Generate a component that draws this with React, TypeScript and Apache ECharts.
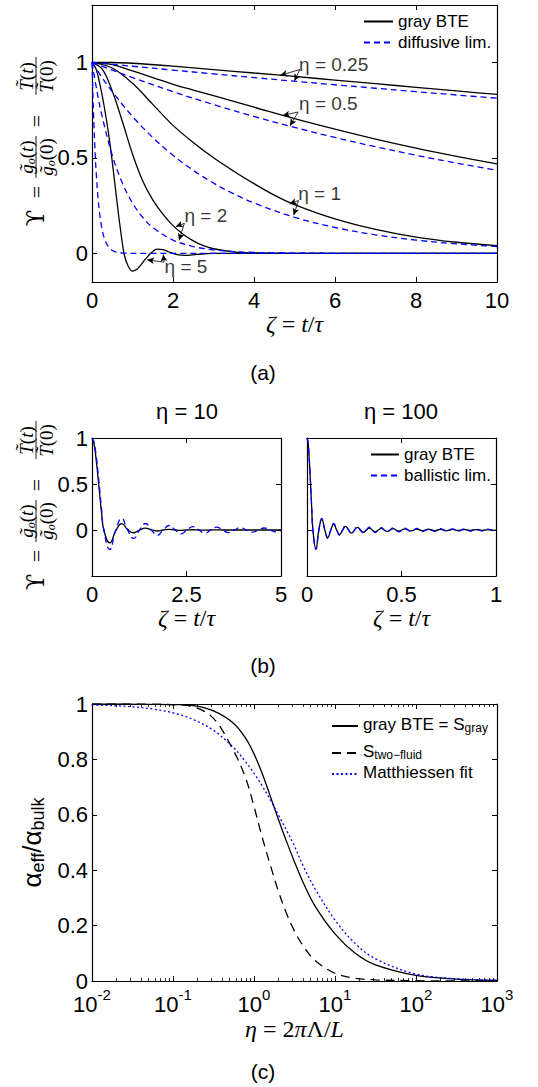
import React, { useEffect, useRef } from 'react';
import * as echarts from 'echarts';

const SANS = '"Liberation Sans", Arial, Helvetica, sans-serif';
const SERIF = '"Liberation Serif", "Times New Roman", serif';
const BLUE = '#0000ff';
const BLACK = '#000000';

// ---------------- Panel (a): zeta = t/tau, Upsilon ----------------
const ZETA_A025B = [0, 0.5, 1, 2, 3, 4, 5, 6, 7, 8, 9, 10];
const BTE_ETA025 = [1, 0.999, 0.995, 0.98, 0.962, 0.944, 0.926, 0.907, 0.888, 0.869, 0.85, 0.832];
const ZETA_A025D = [0, 1, 2, 3, 4, 5, 6, 7, 8, 9, 10];
const DIF_ETA025 = [1, 0.9794, 0.9592, 0.9394, 0.92, 0.901, 0.8825, 0.8643, 0.8465, 0.829, 0.8119];

const ZETA_A05B = [0, 0.5, 1, 1.5, 2, 2.5, 3, 4, 5, 6, 7, 8, 9, 10];
const BTE_ETA05 = [1, 0.988, 0.955, 0.92, 0.885, 0.855, 0.825, 0.765, 0.705, 0.65, 0.598, 0.551, 0.508, 0.468];
const ZETA_A05D = [0, 0.5, 1, 2, 3, 4, 5, 6, 7, 8, 9, 10];
const DIF_ETA05 = [1, 0.9592, 0.92, 0.8465, 0.7788, 0.7165, 0.6592, 0.6065, 0.558, 0.5134, 0.4724, 0.4346];

const ZETA_A1B = [0, 0.5, 1, 1.5, 2, 2.5, 3, 3.5, 4, 4.5, 5, 6, 7, 8, 9, 10];
const BTE_ETA1 = [1, 0.97, 0.89, 0.78, 0.67, 0.58, 0.5, 0.43, 0.365, 0.305, 0.255, 0.18, 0.125, 0.085, 0.058, 0.04];
const ZETA_A1D = [0, 0.25, 0.5, 1, 1.5, 2, 2.5, 3, 3.5, 4, 5, 6, 7, 8, 9, 10];
const DIF_ETA1 = [1, 0.92, 0.8465, 0.7165, 0.6065, 0.5134, 0.4346, 0.3679, 0.3114, 0.2636, 0.1889, 0.1353, 0.097, 0.0695, 0.0498, 0.0357];

const ZETA_A2B = [0, 0.25, 0.5, 0.75, 1, 1.25, 1.5, 1.75, 2, 2.25, 2.5, 2.75, 3, 3.5, 4, 5, 6, 8, 10];
const BTE_ETA2 = [1, 0.965, 0.85, 0.69, 0.52, 0.38, 0.28, 0.205, 0.145, 0.1, 0.065, 0.04, 0.024, 0.008, 0.002, 0, 0, 0, 0];
const ZETA_A2D = [0, 0.125, 0.25, 0.5, 0.75, 1, 1.25, 1.5, 2, 2.5, 3, 3.5, 4, 5, 6, 10];
const DIF_ETA2 = [1, 0.8465, 0.7165, 0.5134, 0.3679, 0.2636, 0.1889, 0.1353, 0.0695, 0.0357, 0.0183, 0.0094, 0.0048, 0.0013, 0.0003, 0];

const ZETA_A5B = [0, 0.1, 0.2, 0.3, 0.4, 0.5, 0.6, 0.7, 0.8, 0.9, 1.0, 1.1, 1.2, 1.3, 1.45, 1.6, 1.75, 1.9, 2.1, 2.3, 2.6, 3, 4, 10];
const BTE_ETA5 = [1, 0.965, 0.88, 0.77, 0.64, 0.48, 0.3, 0.13, -0.01, -0.07, -0.093, -0.085, -0.063, -0.035, 0.0, 0.022, 0.02, 0.007, -0.007, -0.011, -0.005, 0, 0, 0];
const ZETA_A5D = [0, 0.025, 0.05, 0.075, 0.1, 0.15, 0.2, 0.25, 0.3, 0.4, 0.5, 0.6, 0.8, 1, 10];
const DIF_ETA5 = [1, 0.8119, 0.6592, 0.5353, 0.4346, 0.2865, 0.1889, 0.1245, 0.0821, 0.0357, 0.0155, 0.0067, 0.0013, 0.0002, 0];

const Y_TICKS_A = [0, 0.5, 1];

// annotations of panel (a), in data units
const ANNOT_TEXT = ['η = 0.25', 'η = 0.5', 'η = 1', 'η = 2', 'η = 5'];
const ANNOT_TEXT_AT = [[5.1, 0.99], [5.1, 0.785], [5.08, 0.314], [2.27, 0.197], [1.78, -0.07]];
const ANNOT_FROM = [[5.13, 0.962], [5.09, 0.74], [5.1, 0.277], [2.28, 0.157], [1.78, -0.046]];
const ANNOT_TO_BTE = [[4.65, 0.932], [4.71, 0.722], [4.88, 0.258], [2.07, 0.14], [1.36, -0.034]];
const ANNOT_TO_DIF = [[5.0, 0.903], [4.89, 0.668], [4.98, 0.2], [2.15, 0.068], [1.76, -0.006]];

// ---------------- Panel (b) ----------------
const ZETA_B10 = [0, 0.05, 0.1, 0.157, 0.2, 0.25, 0.314, 0.471, 0.628, 0.785,
  0.942, 1.1, 1.257, 1.414, 1.571, 1.728, 1.885, 2.042, 2.199, 2.356,
  2.513, 2.67, 2.827, 2.985, 3.142, 3.299, 3.456, 3.613, 3.77, 3.927,
  4.084, 4.241, 4.398, 4.555, 4.712, 4.869, 5];
const BAL_B10 = [1, 0.959, 0.841, 0.637, 0.455, 0.239, 0, -0.212, 0, 0.127,
  0, -0.091, 0, 0.0707, 0, -0.0579, 0, 0.049, 0, -0.0424,
  0, 0.0374, 0, -0.0335, 0, 0.0303, 0, -0.0277, 0, 0.0255,
  0, -0.0236, 0, 0.0219, 0, -0.0205, -0.005];
const BTE_B10 = [1, 0.945, 0.8, 0.58, 0.4, 0.2, 0, -0.14, -0.01, 0.07,
  0.005, -0.03, 0, 0.02, 0.001, -0.011, 0, 0.007, 0, -0.004,
  0, 0.0025, 0, -0.0015, 0, 0.001, 0, 0, 0, 0,
  0, 0, 0, 0, 0, 0, 0];

const ZETA_B100 = [0, 0.005, 0.01, 0.0157, 0.02, 0.025, 0.0314, 0.0471, 0.0628, 0.0785,
  0.0942, 0.11, 0.1257, 0.1414, 0.1571, 0.1728, 0.1885, 0.2042, 0.2199, 0.2356,
  0.2513, 0.267, 0.2827, 0.2985, 0.3142, 0.3299, 0.3456, 0.3613, 0.377, 0.3927,
  0.4084, 0.4241, 0.4398, 0.4555, 0.4712, 0.4869, 0.5027, 0.5184, 0.5341, 0.5498,
  0.5655, 0.5812, 0.5969, 0.6126, 0.6283, 0.644, 0.6597, 0.6754, 0.6912, 0.7069,
  0.7226, 0.7383, 0.754, 0.7697, 0.7854, 0.8011, 0.8168, 0.8325, 0.8482, 0.8639,
  0.8796, 0.8954, 0.9111, 0.9268, 0.9425, 0.9582, 0.9739, 0.9896, 1];
const BAL_B100 = [1, 0.959, 0.841, 0.637, 0.455, 0.239, 0, -0.212, 0, 0.127,
  0, -0.0909, 0, 0.0707, 0, -0.0579, 0, 0.049, 0, -0.0424,
  0, 0.0374, 0, -0.0335, 0, 0.0303, 0, -0.0277, 0, 0.0255,
  0, -0.0236, 0, 0.0219, 0, -0.0205, 0, 0.0193, 0, -0.0182,
  0, 0.0172, 0, -0.0163, 0, 0.0155, 0, -0.0148, 0, 0.0141,
  0, -0.0135, 0, 0.013, 0, -0.0125, 0, 0.012, 0, -0.0116,
  0, 0.0112, 0, -0.0108, 0, 0.0104, 0, -0.0101, -0.005];
const BTE_B100 = [1, 0.955, 0.835, 0.627, 0.447, 0.234, 0, -0.202, 0, 0.117,
  0, -0.0815, 0, 0.0614, 0, -0.0487, 0, 0.0399, 0, -0.0335,
  0, 0.0287, 0, -0.0249, 0, 0.0218, 0, -0.0193, 0, 0.0172,
  0, -0.0154, 0, 0.0139, 0, -0.0126, 0, 0.0115, 0, -0.0105,
  0, 0.0096, 0, -0.0088, 0, 0.0081, 0, -0.0075, 0, 0.007,
  0, -0.0065, 0, 0.006, 0, -0.0056, 0, 0.0052, 0, -0.0049,
  0, 0.0046, 0, -0.0043, 0, 0.004, 0, -0.0038, -0.002];
const Y_TICKS_B = [0, 0.5, 1];

// ---------------- Panel (c) ----------------
const ETA_C = [0.01, 0.01778, 0.03162, 0.05623, 0.1, 0.1778, 0.3162, 0.5623, 0.7943, 1,
  1.259, 1.585, 1.995, 2.512, 3.162, 3.981, 5.623, 10, 17.78, 31.62, 100, 316.2, 1000];
const S_GRAY = [1, 1, 0.9998, 0.999, 0.998, 0.994, 0.975, 0.93, 0.875, 0.82,
  0.75, 0.668, 0.585, 0.505, 0.43, 0.36, 0.272, 0.17, 0.1, 0.058, 0.02, 0.007, 0.002];
const S_TWOFLUID = [1, 1, 1, 0.9995, 0.998, 0.99, 0.948, 0.83, 0.73, 0.63,
  0.52, 0.42, 0.325, 0.245, 0.18, 0.13, 0.075, 0.028, 0.01, 0.004, 0.001, 0, 0];
const S_MATTHIESSEN = [0.997, 0.994, 0.99, 0.982, 0.968, 0.944, 0.905, 0.842, 0.79, 0.75,
  0.705, 0.655, 0.6, 0.545, 0.487, 0.42, 0.335, 0.22, 0.135, 0.08, 0.025, 0.008, 0.003];

const pts = (xs: number[], ys: number[]) => xs.map((x, i) => [x, ys[i]]);

// grid g uses xAxis 2g (bottom) and yAxis 2g (left)
function lineSeries(name: string, xs: number[], ys: number[], grid: number, color: string, type: any, smooth = 0.35, width = 1.3) {
  return {
    type: 'line', name, data: pts(xs, ys), xAxisIndex: 2 * grid, yAxisIndex: 2 * grid,
    symbol: 'none', showSymbol: false, smooth, silent: true,
    lineStyle: { color, width, type }, itemStyle: { color },
  };
}

const LINE = { show: true, onZero: false, lineStyle: { color: BLACK, width: 1.2 } };
const TICK = { show: true, inside: true, length: 5, lineStyle: { color: BLACK, width: 1 } };
const LABEL = { color: BLACK, fontSize: 22, fontFamily: SANS };
const NO_SPLIT = { show: false };

const ZETA_NAME = '{i|ζ}{n| = }{i|t}{n|/}{i|τ}';
const NAME_STYLE = {
  color: BLACK, fontSize: 22, fontFamily: SERIF,
  rich: {
    i: { fontStyle: 'italic', fontSize: 24, fontFamily: SERIF, color: BLACK },
    n: { fontSize: 24, fontFamily: SERIF, color: BLACK },
  },
};

function xPair(grid: number, min: number, max: number, interval: number, nameGap: number) {
  return [
    {
      type: 'value', gridIndex: grid, position: 'bottom', min, max, interval,
      axisLine: LINE, axisTick: TICK, splitLine: NO_SPLIT,
      axisLabel: { ...LABEL, margin: 7, showMinLabel: true, showMaxLabel: true },
      name: ZETA_NAME, nameLocation: 'middle', nameGap, nameTextStyle: NAME_STYLE,
    },
    {
      type: 'value', gridIndex: grid, position: 'top', min, max, interval,
      axisLine: LINE, axisTick: TICK, splitLine: NO_SPLIT, axisLabel: { show: false },
    },
  ];
}

function yPair(grid: number, min: number, max: number, ticks: number[], showLabels: boolean) {
  return [
    {
      type: 'value', gridIndex: grid, position: 'left', min, max,
      axisLine: LINE, axisTick: { ...TICK, customValues: ticks }, splitLine: NO_SPLIT,
      axisLabel: { ...LABEL, show: showLabels, margin: 4, customValues: ticks },
    },
    {
      type: 'value', gridIndex: grid, position: 'right', min, max,
      axisLine: LINE, axisTick: { ...TICK, customValues: ticks }, splitLine: NO_SPLIT,
      axisLabel: { show: false },
    },
  ];
}

const FR = 19;
function fracText(text: string, x: number, y: number) {
  return {
    type: 'text', x, y, silent: true,
    style: {
      text, fill: BLACK, align: 'center', verticalAlign: 'middle', fontSize: FR, fontFamily: SERIF,
      rich: {
        i: { fontStyle: 'italic', fontSize: FR, fontFamily: SERIF, fill: BLACK },
        n: { fontSize: FR, fontFamily: SERIF, fill: BLACK },
        s: { fontStyle: 'italic', fontSize: 12, fontFamily: SERIF, fill: BLACK, padding: [9, 0, 0, 0] },
      },
    },
  };
}

function upsilonTitle(cx: number, cy: number) {
  return {
    type: 'group', x: cx, y: cy, rotation: Math.PI / 2, silent: true,
    children: [
      { type: 'text', x: -76, y: 0, style: { text: 'ϒ', fill: BLACK, fontSize: 24, fontFamily: '"DejaVu Serif", serif', align: 'center', verticalAlign: 'middle' } },
      { type: 'text', x: -50, y: 0, style: { text: '=', fill: BLACK, fontSize: 22, fontFamily: SERIF, align: 'center', verticalAlign: 'middle' } },
      fracText('{i|g\u0303}{s|o}{n|(}{i|t}{n|)}', -15, -10),
      { type: 'line', shape: { x1: -36, y1: 0, x2: 6, y2: 0 }, style: { stroke: BLACK, lineWidth: 0.9 } },
      fracText('{i|g\u0303}{s|o}{n|(0)}', -15, 10),
      { type: 'text', x: 21, y: 0, style: { text: '=', fill: BLACK, fontSize: 22, fontFamily: SERIF, align: 'center', verticalAlign: 'middle' } },
      fracText('{i|T\u0303}{n|(}{i|t}{n|)}', 65.5, -10),
      { type: 'line', shape: { x1: 47, y1: 0, x2: 85, y2: 0 }, style: { stroke: BLACK, lineWidth: 0.9 } },
      fracText('{i|T\u0303}{n|(0)}', 65.5, 10),
    ],
  };
}

function plainText(text: string, x: number, y: number, fontSize: number) {
  return {
    type: 'text', x, y, silent: true,
    style: { text, fill: BLACK, fontSize, fontFamily: SANS, align: 'center', verticalAlign: 'middle' },
  };
}

const LEGEND_C_MAP: Record<string, string> = {
  'gray BTE = S_gray': '{m|gray BTE = S}{s|gray}',
  'S_two-fluid': '{m|S}{s|two\u2212fluid}',
  'Matthiessen fit': '{m|Matthiessen fit}',
};

function buildOption(): any {
  const series: any[] = [
    // panel (a)
    lineSeries('gray BTE', ZETA_A025B, BTE_ETA025, 0, BLACK, 'solid'),
    lineSeries('gray BTE', ZETA_A05B, BTE_ETA05, 0, BLACK, 'solid'),
    lineSeries('gray BTE', ZETA_A1B, BTE_ETA1, 0, BLACK, 'solid'),
    lineSeries('gray BTE', ZETA_A2B, BTE_ETA2, 0, BLACK, 'solid'),
    lineSeries('gray BTE', ZETA_A5B, BTE_ETA5, 0, BLACK, 'solid'),
    lineSeries('diffusive lim.', ZETA_A025D, DIF_ETA025, 0, BLUE, [6, 4]),
    lineSeries('diffusive lim.', ZETA_A05D, DIF_ETA05, 0, BLUE, [6, 4]),
    lineSeries('diffusive lim.', ZETA_A1D, DIF_ETA1, 0, BLUE, [6, 4]),
    lineSeries('diffusive lim.', ZETA_A2D, DIF_ETA2, 0, BLUE, [6, 4]),
    lineSeries('diffusive lim.', ZETA_A5D, DIF_ETA5, 0, BLUE, [6, 4]),
    {
      type: 'scatter', name: 'eta labels', xAxisIndex: 0, yAxisIndex: 0, silent: true,
      symbolSize: 1, itemStyle: { color: 'rgba(0,0,0,0)' },
      data: ANNOT_TEXT.map((t, i) => ({ name: t, value: ANNOT_TEXT_AT[i] })),
      label: { show: true, position: 'right', distance: 0, formatter: '{b}', color: BLACK, fontSize: 19, fontFamily: SANS },
      markLine: {
        silent: true, symbol: ['none', 'arrow'], symbolSize: [5, 7], label: { show: false },
        lineStyle: { color: BLACK, width: 0.8, type: 'solid' },
        data: ANNOT_FROM.flatMap((f, i) => [
          [{ coord: f }, { coord: ANNOT_TO_BTE[i] }],
          [{ coord: f }, { coord: ANNOT_TO_DIF[i] }],
        ]),
      },
    },
    // panel (b)
    lineSeries('gray BTE', ZETA_B10, BTE_B10, 1, BLACK, 'solid', 0.5),
    lineSeries('ballistic lim.', ZETA_B10, BAL_B10, 1, BLUE, [6, 4], 0.5),
    lineSeries('gray BTE', ZETA_B100, BTE_B100, 2, BLACK, 'solid', 0.5),
    lineSeries('ballistic lim.', ZETA_B100, BAL_B100, 2, BLUE, [6, 4], 0.5),
    // panel (c)
    lineSeries('gray BTE = S_gray', ETA_C, S_GRAY, 3, BLACK, 'solid'),
    lineSeries('S_two-fluid', ETA_C, S_TWOFLUID, 3, BLACK, [9, 6]),
    lineSeries('Matthiessen fit', ETA_C, S_MATTHIESSEN, 3, BLUE, [2, 2.5]),
  ];

  const xAxis: any[] = [
    ...xPair(0, 0, 10, 2, 24),
    ...xPair(1, 0, 5, 2.5, 27),
    ...xPair(2, 0, 1, 0.5, 27),
    {
      type: 'log', logBase: 10, gridIndex: 3, position: 'bottom', min: 0.01, max: 1000,
      axisLine: LINE, axisTick: TICK, splitLine: NO_SPLIT,
      minorTick: { show: true, splitNumber: 9, length: 3, lineStyle: { color: BLACK, width: 0.8 } },
      axisLabel: {
        ...LABEL, margin: 6, showMinLabel: true, showMaxLabel: true,
        formatter: (v: number) => '10{sup|' + Math.round(Math.log10(v)) + '}',
        rich: { sup: { fontSize: 15, fontFamily: SANS, color: BLACK, padding: [0, 0, 20, 0] } },
      },
      name: '{i|η}{n| = 2}{i|π}{n|Λ/}{i|L}', nameLocation: 'middle', nameGap: 36, nameTextStyle: NAME_STYLE,
    },
    {
      type: 'log', logBase: 10, gridIndex: 3, position: 'top', min: 0.01, max: 1000,
      axisLine: LINE, axisTick: TICK, splitLine: NO_SPLIT,
      minorTick: { show: true, splitNumber: 9, length: 3, lineStyle: { color: BLACK, width: 0.8 } },
      axisLabel: { show: false },
    },
  ];

  const yAxis: any[] = [
    ...yPair(0, -0.15, 1.3, Y_TICKS_A, true),
    ...yPair(1, -0.5, 1, Y_TICKS_B, true),
    ...yPair(2, -0.5, 1, Y_TICKS_B, false),
    {
      type: 'value', gridIndex: 3, position: 'left', min: 0, max: 1, interval: 0.2,
      axisLine: LINE, axisTick: TICK, splitLine: NO_SPLIT,
      axisLabel: { ...LABEL, margin: 4 },
      name: '{a|α}{s|eff}{a|/α}{s|bulk}', nameLocation: 'middle', nameGap: 40,
      nameTextStyle: {
        color: BLACK,
        rich: {
          a: { fontSize: 26, fontFamily: SANS, color: BLACK },
          s: { fontSize: 18, fontFamily: SANS, color: BLACK, padding: [12, 0, 0, 0] },
        },
      },
    },
    {
      type: 'value', gridIndex: 3, position: 'right', min: 0, max: 1, interval: 0.2,
      axisLine: LINE, axisTick: TICK, splitLine: NO_SPLIT, axisLabel: { show: false },
    },
  ];

  const legendText = { color: BLACK, fontSize: 17, fontFamily: SANS };
  const hideSymbol = { opacity: 0, borderWidth: 0 };

  return {
    animation: false,
    backgroundColor: '#ffffff',
    grid: [
      { left: 92, top: 5, width: 405, height: 277, containLabel: false, outerBoundsMode: 'none' },
      { left: 92, top: 438, width: 189, height: 138, containLabel: false, outerBoundsMode: 'none' },
      { left: 307, top: 438, width: 189, height: 138, containLabel: false, outerBoundsMode: 'none' },
      { left: 92, top: 704, width: 405, height: 277, containLabel: false, outerBoundsMode: 'none' },
    ],
    xAxis,
    yAxis,
    legend: [
      {
        data: ['gray BTE', 'diffusive lim.'], orient: 'vertical', left: 363, top: 13,
        itemWidth: 29, itemHeight: 14, itemGap: 4, selectedMode: false, textStyle: legendText, padding: 0,
        itemStyle: hideSymbol,
      },
      {
        data: ['gray BTE', 'ballistic lim.'], orient: 'vertical', left: 370, top: 446,
        itemWidth: 28, itemHeight: 14, itemGap: 4, selectedMode: false, textStyle: legendText, padding: 0,
        itemStyle: hideSymbol,
      },
      {
        data: ['gray BTE = S_gray', 'S_two-fluid', 'Matthiessen fit'], orient: 'vertical', left: 331, top: 710,
        itemWidth: 26, itemHeight: 14, itemGap: -5, selectedMode: false, padding: 0,
        itemStyle: hideSymbol,
        formatter: (name: string) => LEGEND_C_MAP[name] || name,
        textStyle: {
          ...legendText,
          rich: {
            m: { fontSize: 17, fontFamily: SANS, color: BLACK, lineHeight: 20, verticalAlign: 'top' },
            s: { fontSize: 12, fontFamily: SANS, color: BLACK, lineHeight: 14, padding: [12, 0, 8, 0] },
          },
        },
      },
    ],
    graphic: [
      upsilonTitle(36, 142),
      upsilonTitle(36, 506),
      plainText('(a)', 263, 372, 21),
      plainText('(b)', 263, 665, 21),
      plainText('(c)', 263, 1071, 21),
      plainText('η = 10', 187, 411, 22),
      plainText('η = 100', 401, 411, 22),
    ],
    series,
  };
}

export default function App() {
  const ref = useRef<HTMLDivElement>(null);
  useEffect(() => {
    if (!ref.current) return;
    const chart = echarts.init(ref.current, undefined, { renderer: 'svg', width: 538, height: 1087 });
    chart.setOption(buildOption());
    return () => chart.dispose();
  }, []);
  return (
    <div
      ref={ref}
      style={{ position: 'absolute', left: 0, top: 0, width: 538, height: 1087, background: '#fff' }}
    />
  );
}
